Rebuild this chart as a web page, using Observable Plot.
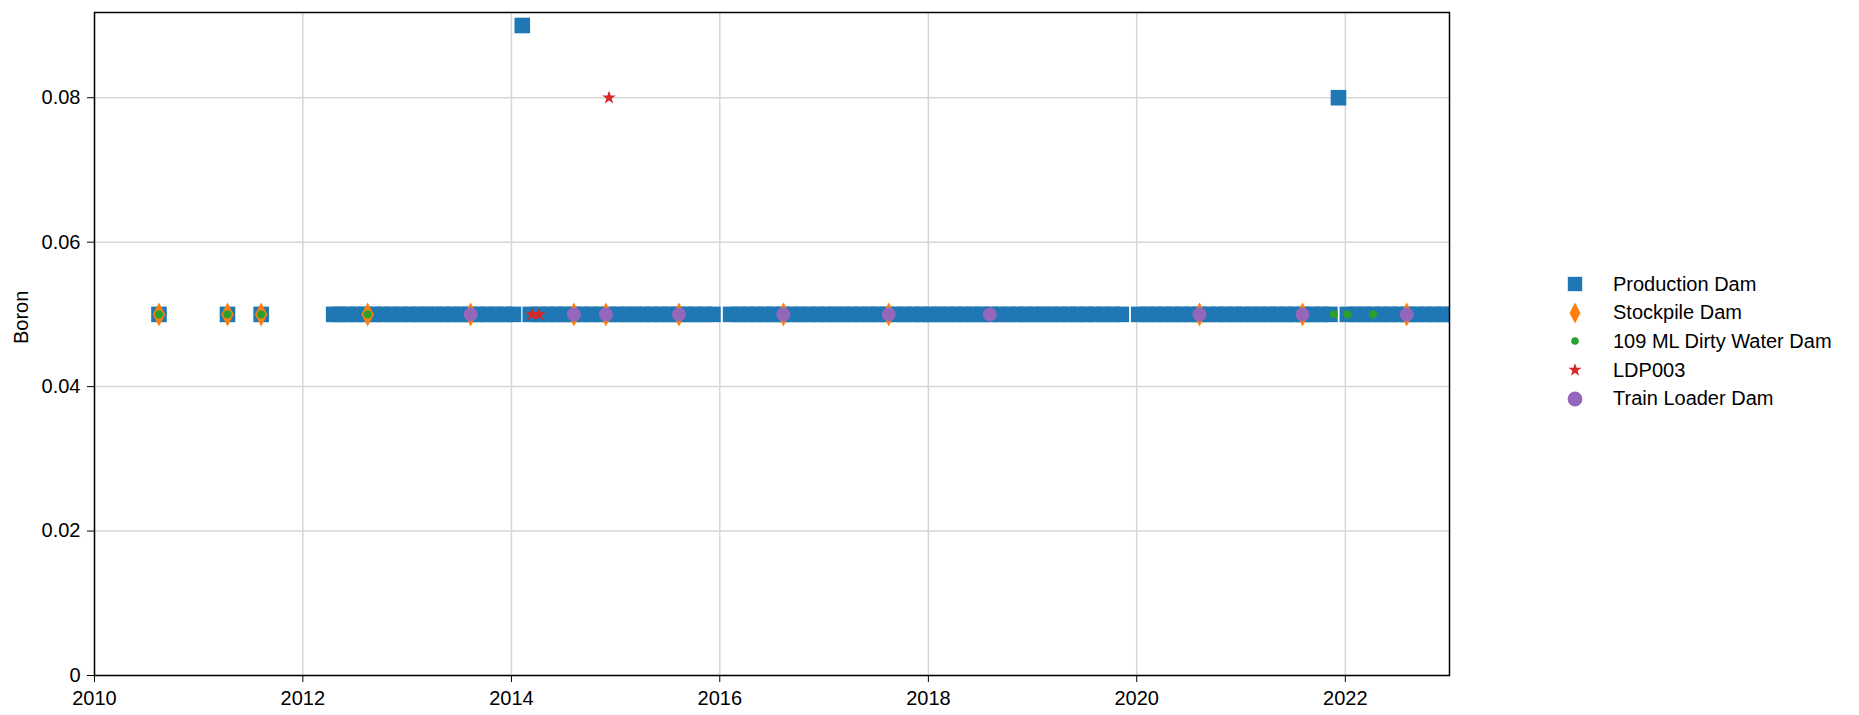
<!DOCTYPE html>
<html><head><meta charset="utf-8">
<script src="https://cdn.jsdelivr.net/npm/d3@7"></script>
<script src="https://cdn.jsdelivr.net/npm/@observablehq/plot@0.6"></script>
<style>
body{margin:0;background:#fff;font-family:"Liberation Sans",Arial,sans-serif;}
#wrap{position:relative;width:1859px;height:715px;}
#legend{position:absolute;left:1555px;top:270px;}
.row{display:flex;align-items:center;height:28.6px;font-size:20px;color:#000;white-space:nowrap;}
.row svg{width:40px;height:28px;margin-right:18px;flex:none;}
</style></head><body><div id="wrap"></div>
<script>
// ---- data ----
const seriesNames = ["Production Dam", "Stockpile Dam", "109 ML Dirty Water Dam", "LDP003", "Train Loader Dam"];
const seriesColors = ["#1f77b4", "#ff7f0e", "#2ca02c", "#d62728", "#9467bd"];

const prodDates = [
  "2010-08-15","2011-04-12","2011-08-08",
  "2012-04-18","2012-05-08","2012-06-08","2012-07-08","2012-08-08","2012-09-08","2012-10-08","2012-11-08","2012-12-08",
  "2013-01-08","2013-02-08","2013-03-08","2013-04-08","2013-05-08","2013-06-08","2013-07-08","2013-08-08","2013-09-08","2013-10-08","2013-11-08","2013-12-08",
  "2014-01-08","2014-02-08","2014-03-08","2014-04-08","2014-05-08","2014-06-08","2014-07-08","2014-08-08","2014-09-08","2014-10-08","2014-11-08","2014-12-08",
  "2015-01-08","2015-02-08","2015-03-08","2015-04-08","2015-05-08","2015-06-08","2015-07-08","2015-08-08","2015-09-08","2015-10-08","2015-11-08","2015-12-08",
  "2016-02-08","2016-03-08","2016-04-08","2016-05-08","2016-06-08","2016-07-08","2016-08-08","2016-09-08","2016-10-08","2016-11-08","2016-12-08",
  "2017-01-08","2017-02-08","2017-03-08","2017-04-08","2017-05-08","2017-06-08","2017-07-08","2017-08-08","2017-09-08","2017-10-08","2017-11-08","2017-12-08",
  "2018-01-08","2018-02-08","2018-03-08","2018-04-08","2018-05-08","2018-06-08","2018-07-08","2018-08-08","2018-09-08","2018-10-08","2018-11-08","2018-12-08",
  "2019-01-08","2019-02-08","2019-03-08","2019-04-08","2019-05-08","2019-06-08","2019-07-08","2019-08-08","2019-09-08","2019-10-08","2019-11-08",
  "2020-01-08","2020-02-08","2020-03-08","2020-04-08","2020-05-08","2020-06-08","2020-07-08","2020-08-08","2020-09-08","2020-10-08","2020-11-08","2020-12-08",
  "2021-01-08","2021-02-08","2021-03-08","2021-04-08","2021-05-08","2021-06-08","2021-07-08","2021-08-08","2021-09-08","2021-10-08","2021-11-08","2021-12-08",
  "2022-01-08","2022-02-08","2022-03-08","2022-04-08","2022-05-08","2022-06-08","2022-07-08","2022-08-08","2022-09-08","2022-10-08","2022-11-08","2022-12-08",
  "2023-01-08"
];
const prodValues = [
  0.05,0.05,0.05,
  0.05,0.05,0.05,0.05,0.05,0.05,0.05,0.05,0.05,
  0.05,0.05,0.05,0.05,0.05,0.05,0.05,0.05,0.05,0.05,0.05,0.05,
  0.05,0.09,0.05,0.05,0.05,0.05,0.05,0.05,0.05,0.05,0.05,0.05,
  0.05,0.05,0.05,0.05,0.05,0.05,0.05,0.05,0.05,0.05,0.05,0.05,
  0.05,0.05,0.05,0.05,0.05,0.05,0.05,0.05,0.05,0.05,0.05,
  0.05,0.05,0.05,0.05,0.05,0.05,0.05,0.05,0.05,0.05,0.05,0.05,
  0.05,0.05,0.05,0.05,0.05,0.05,0.05,0.05,0.05,0.05,0.05,0.05,
  0.05,0.05,0.05,0.05,0.05,0.05,0.05,0.05,0.05,0.05,0.05,
  0.05,0.05,0.05,0.05,0.05,0.05,0.05,0.05,0.05,0.05,0.05,0.05,
  0.05,0.05,0.05,0.05,0.05,0.05,0.05,0.05,0.05,0.05,0.05,0.08,
  0.05,0.05,0.05,0.05,0.05,0.05,0.05,0.05,0.05,0.05,0.05,0.05,
  0.05
];

const stockDates = ["2010-08-15","2011-04-12","2011-08-08","2012-08-15","2013-08-11","2014-08-08","2014-11-28","2015-08-11","2016-08-11","2017-08-15","2020-08-08","2021-08-04","2022-08-04"];
const stockValues = [0.05,0.05,0.05,0.05,0.05,0.05,0.05,0.05,0.05,0.05,0.05,0.05,0.05];

const dirtyDates = ["2010-08-15","2011-04-12","2011-08-08","2012-08-15","2021-11-22","2022-01-08","2022-04-08"];
const dirtyValues = [0.05,0.05,0.05,0.05,0.05,0.05,0.05];

const ldpDates = ["2014-03-14","2014-04-08","2014-12-09"];
const ldpValues = [0.05,0.05,0.08];

const trainDates = ["2013-08-11","2014-08-08","2014-11-28","2015-08-11","2016-08-11","2017-08-15","2018-08-04","2020-08-08","2021-08-04","2022-08-04"];
const trainValues = [0.05,0.05,0.05,0.05,0.05,0.05,0.05,0.05,0.05,0.05];

const xTickYears = [2010, 2012, 2014, 2016, 2018, 2020, 2022];
const yTickValues = [0, 0.02, 0.04, 0.06, 0.08];
const yLabels = ["0", "0.02", "0.04", "0.06", "0.08"];

// ---- symbols ----
const rad = s => Math.sqrt(s / Math.PI);
const squareSym = {draw(c, s){ const r = rad(s); c.moveTo(-r,-r); c.lineTo(r,-r); c.lineTo(r,r); c.lineTo(-r,r); c.closePath(); }};
const thinDiamond = {draw(c, s){ const r = rad(s), w = r * 0.52; c.moveTo(0,-r); c.lineTo(w,0); c.lineTo(0,r); c.lineTo(-w,0); c.closePath(); }};
const starSym = {draw(c, s){
  const R = rad(s), ri = R * 0.381966;
  for (let k = 0; k < 10; k++) {
    const a = -Math.PI/2 + k * Math.PI/5, rr = k % 2 ? ri : R;
    const px = rr * Math.cos(a), py = rr * Math.sin(a);
    if (k === 0) c.moveTo(px, py); else c.lineTo(px, py);
  }
  c.closePath();
}};
const circleSym = d3.symbolCircle;
const symbols = [squareSym, thinDiamond, circleSym, starSym, circleSym];
const plotR = [7.8, 12, 4.2, 7.2, 7];
const legendR = [7.2, 10.5, 3.8, 7, 7.4];

const rows = (dates, values) => dates.map((d, i) => ({date: new Date(d), value: values[i]}));
const sets = [rows(prodDates, prodValues), rows(stockDates, stockValues), rows(dirtyDates, dirtyValues), rows(ldpDates, ldpValues), rows(trainDates, trainValues)];

const xTicks = xTickYears.map(y => new Date(Date.UTC(y, 0, 1)));
const font = '"Liberation Sans", Arial, sans-serif';

const chart = Plot.plot({
  width: 1859, height: 715,
  marginLeft: 94, marginRight: 410, marginTop: 12, marginBottom: 40,
  style: {fontFamily: font, fontSize: "20px", color: "black", background: "white"},
  x: {type: "utc", domain: [new Date(Date.UTC(2010,0,1)), new Date(Date.UTC(2023,0,1))]},
  y: {domain: [0, 0.0918]},
  marks: [
    Plot.gridX(xTicks, {stroke: "#d6d6d6", strokeOpacity: 1, strokeWidth: 1.5}),
    Plot.gridY(yTickValues, {stroke: "#d6d6d6", strokeOpacity: 1, strokeWidth: 1.5}),
    ...sets.map((data, i) => Plot.dot(data, {
      x: "date", y: "value", symbol: symbols[i], r: plotR[i],
      fill: seriesColors[i], stroke: "none", clip: true
    })),
    Plot.frame({stroke: "black", strokeWidth: 1.5}),
    Plot.axisX(xTicks, {tickFormat: d3.utcFormat("%Y"), tickSize: 7, tickPadding: 8, fontSize: 20, label: null}),
    Plot.axisY(yTickValues, {tickFormat: (d) => yLabels[yTickValues.indexOf(d)], tickSize: 7, tickPadding: 7, fontSize: 20, label: null}),
    Plot.text(["Boron"], {frameAnchor: "left", dx: -73, rotate: -90, fontSize: 20, fill: "black"})
  ]
});

const wrap = document.getElementById("wrap");
wrap.appendChild(chart);

const legend = document.createElement("div");
legend.id = "legend";
seriesNames.forEach((name, i) => {
  const row = document.createElement("div");
  row.className = "row";
  const p = d3.path();
  symbols[i].draw(p, legendR[i] * legendR[i] * Math.PI);
  row.innerHTML = `<svg viewBox="-20 -14 40 28"><path d="${p.toString()}" fill="${seriesColors[i]}"/></svg><span>${name}</span>`;
  legend.appendChild(row);
});
wrap.appendChild(legend);
</script>
</body></html>
